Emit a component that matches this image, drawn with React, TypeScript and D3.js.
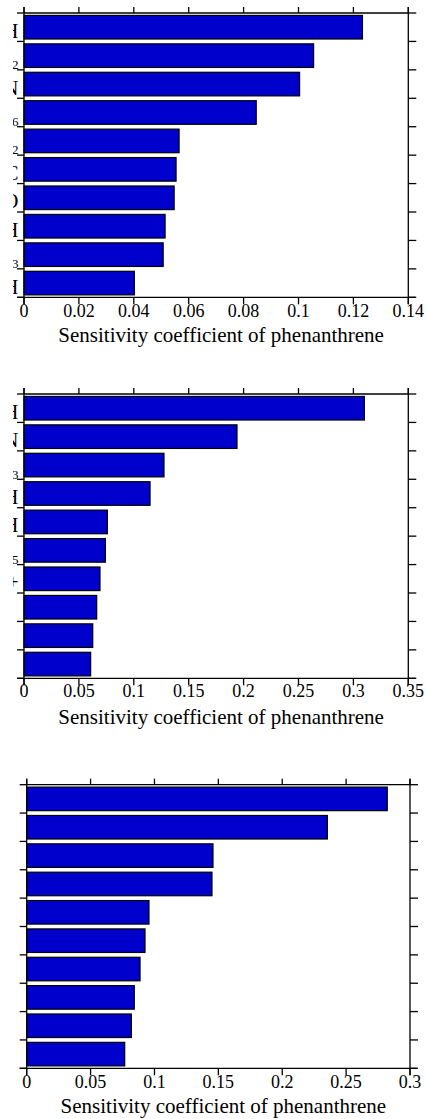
import React from "react";
import * as d3 from "d3";

// Sensitivity coefficients of phenanthrene, one array per panel (top to bottom bars)
const values1 = [0.1233, 0.1055, 0.1004, 0.0846, 0.0565, 0.0554, 0.0547, 0.0514, 0.0507, 0.0402];
const values2 = [0.31, 0.194, 0.1275, 0.1148, 0.0759, 0.0741, 0.0692, 0.0662, 0.0626, 0.0607];
const values3 = [0.2822, 0.2353, 0.1458, 0.145, 0.0957, 0.0926, 0.0887, 0.0842, 0.0819, 0.0767];

// Category labels (digits are typeset as subscripts)
const labels1 = ["OH", "HO2", "CN", "C6H6", "H2", "HCC", "HCO", "C2H", "CH3", "H"];
const labels2 = ["OH", "CN", "CH3", "C2H", "H", "C5H5", "HCO+", "", "", ""];
const labels3 = ["", "", "", "", "", "", "", "", "", ""];

// Tick values of the x axes
const ticks1 = [0, 0.02, 0.04, 0.06, 0.08, 0.1, 0.12, 0.14];
const ticks2 = [0, 0.05, 0.1, 0.15, 0.2, 0.25, 0.3, 0.35];
const ticks3 = [0, 0.05, 0.1, 0.15, 0.2, 0.25, 0.3];

const xTitle = "Sensitivity coefficient of phenanthrene";

const FONT = "'Liberation Serif', 'Times New Roman', 'DejaVu Serif', serif";
const BAR = "#0000cd";

type PanelProps = {
  values: number[];
  labels: string[];
  ticks: number[];
  left: number;
  right: number;
  top: number;
  bottom: number;
  tickBase: number;
  titleBase: number;
  clipX: number;
  id: string;
};

function Formula({ text, x, y }: { text: string; x: number; y: number }) {
  const parts = text.match(/(\d+|[^\d]+)/g) || [];
  return (
    <text x={x} y={y} textAnchor="end" fontFamily={FONT} fontSize={21} fill="#000">
      {parts.map((p, i) =>
        /\d/.test(p) ? (
          <tspan key={i} fontSize={13} dy={3}>{p}</tspan>
        ) : (
          <tspan key={i} dy={i > 0 && /\d/.test(parts[i - 1]) ? -3 : 0}>{p}</tspan>
        )
      )}
    </text>
  );
}

function Panel(p: PanelProps) {
  const max = p.ticks[p.ticks.length - 1];
  const x = d3.scaleLinear().domain([0, max]).range([p.left, p.right]);
  const idx = p.values.map((_, i) => i);
  const y = d3
    .scaleBand<number>()
    .domain(idx)
    .range([p.top, p.bottom])
    .paddingInner(0.17)
    .paddingOuter(0.085);
  const step = y.step();
  const bounds = d3.range(p.values.length + 1).map((i) => p.top + i * step);
  const fmt = (v: number) => String(+v.toFixed(2));
  const tl = 7;

  return (
    <g>
      <defs>
        <clipPath id={p.id}>
          <rect x={p.clipX} y={p.top - 10} width={427} height={p.bottom - p.top + 20} />
        </clipPath>
      </defs>
      {/* bars */}
      {p.values.map((v, i) => (
        <rect
          key={i}
          x={x(0)}
          y={y(i)!}
          width={x(v) - x(0)}
          height={y.bandwidth()}
          fill={BAR}
          stroke="#000"
          strokeWidth={1.2}
        />
      ))}
      {/* frame */}
      <g stroke="#000" strokeWidth={1.3} fill="none">
        <line x1={p.left} x2={p.right} y1={p.top} y2={p.top} />
        <line x1={p.left - tl} x2={p.right + tl} y1={p.bottom} y2={p.bottom} />
        <line x1={p.left} x2={p.left} y1={p.top - 6} y2={p.bottom + tl} />
        <line x1={p.right} x2={p.right} y1={p.top - 6} y2={p.bottom + tl} />
        {p.ticks.map((t) => (
          <g key={t}>
            <line x1={x(t)} x2={x(t)} y1={p.bottom} y2={p.bottom + tl} />
            <line x1={x(t)} x2={x(t)} y1={p.top} y2={p.top - 6} />
          </g>
        ))}
        {bounds.map((b, i) => (
          <g key={i}>
            <line x1={p.left - tl} x2={p.left} y1={b} y2={b} />
            <line x1={p.right} x2={p.right + 8} y1={b} y2={b} />
          </g>
        ))}
      </g>
      {/* x tick labels */}
      {p.ticks.map((t) => (
        <text
          key={t}
          x={x(t)}
          y={p.tickBase}
          textAnchor="middle"
          fontFamily={FONT}
          fontSize={18}
          fill="#000"
        >
          {fmt(t)}
        </text>
      ))}
      {/* category labels */}
      <g clipPath={`url(#${p.id})`}>
        {p.labels.map((l, i) =>
          l ? <Formula key={i} text={l} x={p.left - 5.5} y={bounds[i + 1] - 3.7} /> : null
        )}
      </g>
      <text
        x={(p.left + p.right) / 2 + 5}
        y={p.titleBase}
        textAnchor="middle"
        fontFamily={FONT}
        fontSize={21}
        fill="#000"
      >
        {xTitle}
      </text>
    </g>
  );
}

export default function App() {
  return (
    <svg
      width={427}
      height={1119}
      style={{ position: "absolute", left: 0, top: 0, background: "#fff" }}
    >
      <rect width={427} height={1119} fill="#fff" />
      <Panel id="c1" values={values1} labels={labels1} ticks={ticks1}
        left={24} right={408.3} top={13} bottom={297.3} tickBase={317} titleBase={342} clipX={13} />
      <Panel id="c2" values={values2} labels={labels2} ticks={ticks2}
        left={24} right={408.3} top={394} bottom={678.3} tickBase={697} titleBase={724} clipX={13} />
      <Panel id="c3" values={values3} labels={labels3} ticks={ticks3}
        left={26.7} right={410} top={784.7} bottom={1068.3} tickBase={1088} titleBase={1113} clipX={20} />
    </svg>
  );
}
